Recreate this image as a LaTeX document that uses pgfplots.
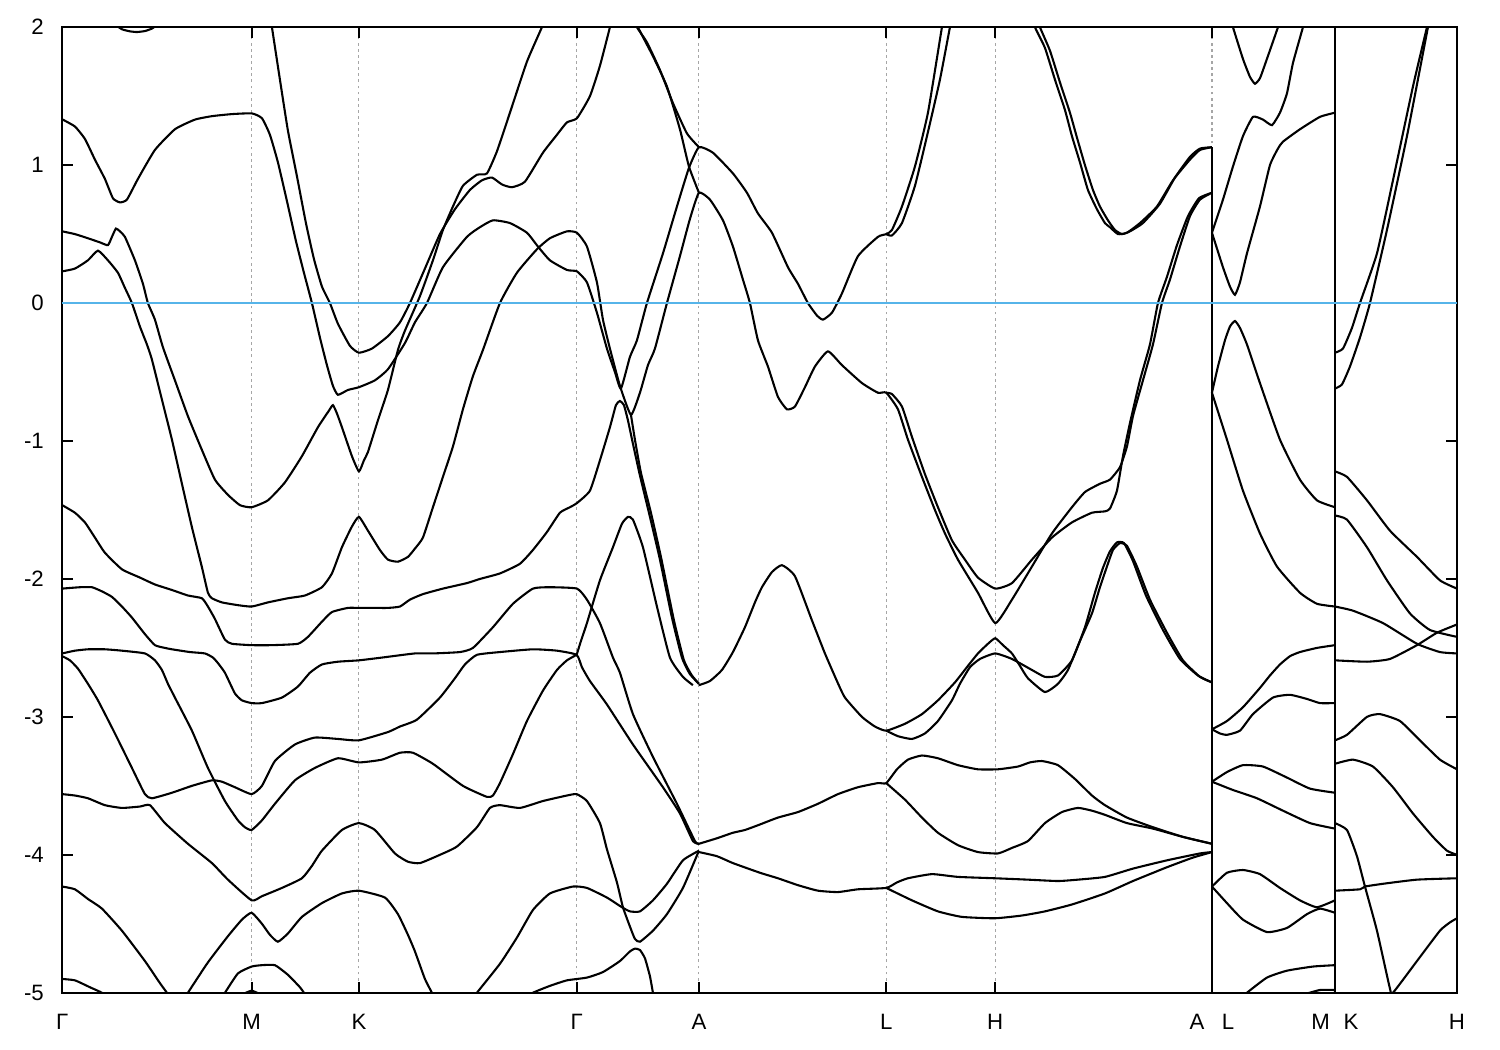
\documentclass[border=0pt]{standalone}
\usepackage{fontspec}
\setmainfont{Liberation Sans}
\usepackage{pgfplots}
\pgfplotsset{compat=1.18}
\definecolor{fermi}{RGB}{86,180,233}
\begin{document}
\begin{tikzpicture}
\begin{axis}[
  scale only axis, width=502.1pt, height=347.6pt,
  xmin=62.3, xmax=1457, ymin=-5, ymax=2,
  axis line style={line width=0.75pt},
  xtick={62.3,251.7,359,576.7,699,886.3,995.3,1212,1335,1457},
  xticklabels={Γ,M,K,Γ,A,L,H,{A\hspace{6.3pt}L},{M\hspace{4.9pt}K},H},
  ytick={-5,-4,-3,-2,-1,0,1,2},
  yticklabels={-5,-4,-3,-2,-1,0,1,2},
  major tick length=4pt,
  tick style={line width=0.75pt, black},
  xmajorgrids,
  grid style={gray!70, line width=0.4pt, dash pattern=on 1pt off 1.2pt},
  ticklabel style={font=\fontsize{8}{9.6}\selectfont},
  xticklabel style={yshift=-4.3pt},
  yticklabel style={xshift=-3.1pt},
  band/.style={black, line width=0.75pt, smooth, tension=0.3, mark=none},
  clip=true,
]
% ---------- Gamma - M - K - Gamma ----------
\addplot[band] coordinates {(62.3,1.332) (75,1.28) (85,1.19) (95,1.04) (105,0.90) (113,0.76) (120,0.73) (127,0.75) (138,0.90) (155,1.11) (175,1.26) (195,1.33) (212,1.355) (232,1.37) (252,1.375) (262,1.34) (270,1.22) (278,1.02) (287,0.74) (296,0.45) (304,0.22) (312,0.0) (320,-0.25) (327,-0.45) (333,-0.60) (338,-0.665) (348,-0.63) (359,-0.61) (375,-0.56) (388,-0.48) (405,-0.29) (415,-0.14) (427,0.0) (443,0.26) (467,0.48) (480,0.55) (493,0.60) (510,0.58) (527,0.51) (538,0.41) (550,0.31) (567,0.24) (577,0.23) (587,0.15) (597,-0.07) (607,-0.33) (615,-0.50) (621,-0.62) (630,-0.39) (637,-0.27) (647,0.0) (663,0.36) (677,0.70) (689,0.98) (699,1.13) (713,1.09) (733,0.94) (747,0.80) (758,0.65) (772,0.51) (788,0.26) (798,0.14) (808,0.0) (817,-0.09) (823,-0.12) (832,-0.07) (842,0.07) (858,0.34) (878,0.48) (886.3,0.50) (892,0.53) (902,0.70) (915,0.99) (928,1.38) (942,2.0) (944,2.06)};
\addplot[band] coordinates {(115,2.02) (122,1.985) (130,1.97) (137,1.965) (145,1.972) (152,1.99) (158,2.02)};
\addplot[band] coordinates {(62.3,0.52) (75,0.50) (88,0.47) (100,0.44) (108,0.42) (112,0.48) (116,0.54) (120,0.52) (125,0.48) (135,0.31) (143,0.14) (148,0.0) (155,-0.12) (163,-0.32) (175,-0.56) (188,-0.82) (202,-1.065) (215,-1.28) (228,-1.39) (240,-1.465) (251.7,-1.48) (268,-1.43) (285,-1.30) (302,-1.11) (318,-0.90) (329,-0.78) (333,-0.74) (337,-0.80) (342,-0.90) (352,-1.11) (359,-1.22) (364,-1.14) (368,-1.08) (378,-0.85) (388,-0.63) (398,-0.34) (405,-0.20) (420,0.05) (433,0.31) (443,0.53) (453,0.70) (463,0.85) (477,0.93) (487,0.94) (497,1.10) (510,1.38) (527,1.75) (542,2.0) (544,2.05)};
\addplot[band] coordinates {(62.3,0.23) (75,0.25) (88,0.31) (98,0.38) (108,0.31) (118,0.22) (125,0.11) (132,0.0) (140,-0.17) (147,-0.30) (152,-0.41) (162,-0.70) (172,-0.99) (182,-1.31) (192,-1.625) (202,-1.915) (208,-2.10) (212,-2.14) (222,-2.17) (238,-2.19) (251.7,-2.20) (268,-2.17) (288,-2.14) (305,-2.12) (322,-2.06) (332,-1.96) (342,-1.77) (352,-1.62) (359,-1.55) (368,-1.65) (380,-1.79) (388,-1.86) (398,-1.875) (408,-1.84) (415,-1.78) (423,-1.70) (433,-1.48) (443,-1.26) (453,-1.04) (463,-0.77) (473,-0.53) (483,-0.34) (500,0.0) (517,0.22) (537,0.39) (550,0.47) (567,0.52) (577,0.51) (587,0.41) (597,0.15) (603,-0.12) (610,-0.33) (620,-0.60) (631,-0.81) (640,-0.65) (648,-0.45) (655,-0.33) (667,0.0) (680,0.34) (690,0.61) (699,0.80) (710,0.75) (723,0.60) (733,0.41) (743,0.17) (750,0.0) (758,-0.27) (768,-0.46) (778,-0.68) (787,-0.77) (795,-0.75) (805,-0.61) (815,-0.46) (828,-0.35) (842,-0.45) (862,-0.58) (878,-0.65) (886.3,-0.65) (898,-0.77) (908,-0.99) (922,-1.26) (935,-1.50) (945,-1.67) (958,-1.86) (978,-2.10) (995.3,-2.32) (1012,-2.15) (1032,-1.91) (1052,-1.67) (1072,-1.48) (1085,-1.37) (1100,-1.31) (1110,-1.28) (1120,-1.19) (1127,-1.04) (1133,-0.82) (1143,-0.56) (1153,-0.30) (1162,0.0) (1170,0.17) (1180,0.41) (1190,0.63) (1200,0.75) (1212,0.80)};
\addplot[band] coordinates {(271,2.05) (272,2.0) (280,1.62) (288,1.25) (297,0.92) (306,0.58) (314,0.32) (322,0.12) (330,0.0) (338,-0.15) (350,-0.31) (359,-0.36) (372,-0.33) (388,-0.24) (400,-0.14) (410,0.0) (425,0.25) (440,0.50) (455,0.68) (470,0.82) (482,0.89) (492,0.91) (502,0.86) (512,0.84) (525,0.88) (543,1.09) (557,1.22) (567,1.31) (577,1.34) (590,1.50) (600,1.72) (610,2.0) (612,2.06)};
\addplot[band] coordinates {(62.3,-1.465) (75,-1.52) (85,-1.59) (95,-1.70) (105,-1.81) (122,-1.93) (140,-1.99) (155,-2.04) (172,-2.08) (188,-2.12) (202,-2.14) (208,-2.20) (215,-2.29) (225,-2.44) (232,-2.47) (251.7,-2.48) (272,-2.48) (298,-2.47) (308,-2.42) (322,-2.31) (332,-2.24) (348,-2.21) (359,-2.21) (375,-2.21) (388,-2.21) (400,-2.2) (410,-2.15) (423,-2.11) (443,-2.07) (467,-2.03) (480,-2.0) (500,-1.96) (520,-1.89) (533,-1.79) (547,-1.66) (560,-1.52) (570,-1.48) (577,-1.45) (590,-1.36) (600,-1.14) (610,-0.90) (616,-0.74) (620,-0.71) (624,-0.74) (628,-0.85) (633,-1.02) (640,-1.25) (650,-1.55) (660,-1.86) (672,-2.28) (682,-2.57) (690,-2.69) (699,-2.76)};
\addplot[band] coordinates {(62.3,-2.07) (80,-2.06) (92,-2.06) (102,-2.09) (112,-2.13) (122,-2.20) (132,-2.28) (145,-2.40) (155,-2.48) (165,-2.50) (172,-2.51) (190,-2.53) (205,-2.54) (213,-2.57) (218,-2.61) (225,-2.68) (235,-2.83) (242,-2.88) (251.7,-2.90) (262,-2.90) (282,-2.86) (298,-2.78) (310,-2.68) (322,-2.62) (338,-2.60) (359,-2.59) (382,-2.57) (415,-2.54) (433,-2.54) (460,-2.53) (473,-2.50) (493,-2.35) (513,-2.18) (533,-2.07) (550,-2.06) (577,-2.07) (587,-2.15) (600,-2.32) (613,-2.57) (620,-2.68) (633,-2.98) (653,-3.29) (677,-3.63) (695,-3.90) (699,-3.92)};
\addplot[band] coordinates {(62.3,-2.54) (75,-2.52) (88,-2.51) (105,-2.51) (122,-2.52) (145,-2.54) (155,-2.59) (162,-2.66) (168,-2.76) (175,-2.86) (192,-3.10) (208,-3.37) (225,-3.61) (238,-3.75) (245,-3.80) (251.7,-3.82) (262,-3.75) (275,-3.63) (295,-3.46) (315,-3.37) (338,-3.30) (359,-3.33) (382,-3.31) (400,-3.26) (413,-3.26) (433,-3.34) (463,-3.50) (487,-3.58) (493,-3.57) (500,-3.48) (513,-3.27) (527,-3.03) (543,-2.81) (557,-2.66) (567,-2.59) (576.7,-2.55)};
\addplot[band] coordinates {(62.3,-2.56) (70,-2.59) (78,-2.65) (88,-2.76) (98,-2.88) (115,-3.12) (132,-3.37) (145,-3.56) (152,-3.59) (172,-3.55) (192,-3.50) (212,-3.46) (222,-3.47) (235,-3.51) (251.7,-3.56) (262,-3.50) (275,-3.32) (295,-3.20) (315,-3.15) (338,-3.16) (359,-3.17) (388,-3.11) (400,-3.07) (417,-3.02) (440,-2.86) (455,-2.72) (465,-2.62) (477,-2.55) (500,-2.53) (533,-2.51) (557,-2.52) (576.7,-2.55) (582,-2.64) (590,-2.74) (607,-2.91) (633,-3.20) (663,-3.51) (680,-3.70) (693,-3.90) (699,-3.92)};
\addplot[band] coordinates {(62.3,-3.56) (75,-3.57) (88,-3.59) (105,-3.64) (122,-3.66) (140,-3.65) (150,-3.64) (165,-3.77) (188,-3.92) (212,-4.06) (228,-4.18) (251.7,-4.33) (262,-4.30) (282,-4.24) (302,-4.17) (312,-4.08) (322,-3.97) (342,-3.82) (359,-3.77) (375,-3.82) (395,-3.99) (408,-4.05) (420,-4.06) (440,-4.0) (457,-3.94) (477,-3.80) (490,-3.66) (500,-3.64) (520,-3.66) (543,-3.61) (567,-3.57) (576.7,-3.56) (587,-3.61) (600,-3.77) (607,-3.96) (617,-4.20) (623,-4.38) (630,-4.52) (635,-4.61) (640,-4.63) (653,-4.55) (667,-4.43) (683,-4.24) (699,-3.97)};
\addplot[band] coordinates {(62.3,-4.23) (75,-4.25) (88,-4.32) (102,-4.39) (122,-4.55) (145,-4.77) (160,-4.93) (167,-5.0) (170,-5.04)};
\addplot[band] coordinates {(62.3,-4.90) (75,-4.91) (90,-4.96) (102,-5.0) (105,-5.03)};
\addplot[band] coordinates {(185,-5.04) (188,-5.0) (208,-4.78) (228,-4.59) (242,-4.47) (251.7,-4.42) (262,-4.50) (270,-4.58) (278,-4.63) (288,-4.57) (302,-4.45) (322,-4.35) (342,-4.28) (359,-4.26) (385,-4.31) (398,-4.43) (408,-4.58) (415,-4.70) (425,-4.90) (432,-5.0) (434,-5.04)};
\addplot[band] coordinates {(222,-5.03) (225,-5.0) (238,-4.86) (251.7,-4.81) (262,-4.80) (275,-4.80) (288,-4.87) (300,-4.96) (306,-5.02)};
\addplot[band] coordinates {(243,-5.01) (251.7,-4.985) (260,-5.01)};
\addplot[band] coordinates {(474,-5.04) (477,-5.0) (500,-4.79) (517,-4.60) (533,-4.40) (550,-4.28) (573,-4.23) (587,-4.24) (607,-4.31) (622,-4.38) (630,-4.41) (640,-4.41) (653,-4.33) (667,-4.21) (683,-4.04) (699,-3.97)};
\addplot[band] coordinates {(530,-5.03) (533,-5.0) (550,-4.95) (567,-4.91) (587,-4.89) (603,-4.85) (620,-4.77) (630,-4.70) (635,-4.68) (640,-4.69) (645,-4.75) (650,-4.88) (653,-5.0) (654,-5.03)};
% ---------- Gamma - A ----------
\addplot[band] coordinates {(631,-0.81) (635,-0.99) (641,-1.23) (651,-1.52) (661,-1.84) (674,-2.30) (684,-2.59) (692,-2.70) (699,-2.76)};
\addplot[band] coordinates {(576.7,-2.55) (581,-2.45) (587,-2.32) (600,-2.01) (613,-1.77) (622,-1.60) (628,-1.55) (633,-1.57) (643,-1.77) (657,-2.2) (670,-2.57) (683,-2.71) (693,-2.77)};
\addplot[band] coordinates {(636,2.05) (637,2.0) (647,1.89) (660,1.69) (673,1.45) (687,1.23) (699,1.13)};
\addplot[band] coordinates {(637,2.05) (638,2.0) (653,1.79) (667,1.57) (680,1.26) (689,0.99) (699,0.80)};
% ---------- A - L - H - A ----------
\addplot[band] coordinates {(699,-2.77) (710,-2.74) (722,-2.66) (733,-2.53) (745,-2.35) (755,-2.17) (762,-2.06) (772,-1.95) (782,-1.90) (795,-1.98) (812,-2.30) (825,-2.54) (837,-2.74) (845,-2.86) (862,-3.0) (875,-3.07) (886.3,-3.10) (905,-3.05) (922,-2.98) (938,-2.88) (955,-2.75) (968,-2.63) (978,-2.54) (988,-2.47) (995.3,-2.43) (1003,-2.48) (1012,-2.54) (1020,-2.63) (1028,-2.72) (1045,-2.82) (1058,-2.76) (1068,-2.66) (1080,-2.45) (1092,-2.25) (1100,-2.06) (1107,-1.91) (1113,-1.79) (1120,-1.74) (1127,-1.76) (1137,-1.91) (1150,-2.15) (1167,-2.39) (1183,-2.59) (1200,-2.71) (1212,-2.75)};
\addplot[band] coordinates {(886.3,-3.10) (898,-3.14) (912,-3.16) (925,-3.12) (938,-3.03) (952,-2.88) (960,-2.76) (970,-2.64) (980,-2.58) (995.3,-2.54) (1012,-2.58) (1032,-2.66) (1045,-2.71) (1058,-2.70) (1072,-2.59) (1085,-2.35) (1095,-2.10) (1103,-1.92) (1110,-1.80) (1117,-1.735) (1124,-1.74) (1133,-1.87) (1146,-2.12) (1163,-2.37) (1180,-2.58) (1198,-2.70) (1212,-2.75)};
\addplot[band] coordinates {(886.3,-0.65) (892,-0.66) (902,-0.75) (912,-0.97) (925,-1.24) (938,-1.48) (952,-1.72) (965,-1.86) (978,-1.99) (995.3,-2.07) (1012,-2.03) (1032,-1.86) (1052,-1.70) (1072,-1.59) (1092,-1.52) (1105,-1.51) (1110,-1.49) (1117,-1.36) (1123,-1.11) (1130,-0.87) (1140,-0.56) (1150,-0.30) (1158,0.0) (1167,0.19) (1177,0.42) (1188,0.63) (1199,0.76) (1212,0.80)};
\addplot[band] coordinates {(886.3,0.50) (892,0.49) (902,0.58) (915,0.85) (928,1.24) (940,1.62) (950,2.0) (952,2.06)};
\addplot[band] coordinates {(1034,2.05) (1035,2.0) (1045,1.85) (1055,1.62) (1065,1.40) (1072,1.21) (1080,1.02) (1088,0.82) (1097,0.68) (1105,0.58) (1110,0.55) (1118,0.50) (1127,0.51) (1140,0.58) (1157,0.70) (1173,0.89) (1190,1.04) (1200,1.11) (1212,1.13)};
\addplot[band] coordinates {(1039,2.05) (1040,2.0) (1050,1.83) (1060,1.60) (1070,1.38) (1077,1.20) (1085,1.00) (1093,0.82) (1100,0.70) (1108,0.60) (1115,0.53) (1122,0.50) (1130,0.52) (1143,0.58) (1160,0.72) (1175,0.91) (1190,1.06) (1200,1.12) (1212,1.13)};
\addplot[band] coordinates {(699,-3.92) (717,-3.88) (733,-3.84) (745,-3.82) (760,-3.78) (778,-3.73) (798,-3.69) (818,-3.63) (838,-3.56) (858,-3.51) (878,-3.48) (886.3,-3.48) (897,-3.38) (908,-3.31) (922,-3.28) (938,-3.30) (958,-3.35) (978,-3.38) (998,-3.38) (1018,-3.36) (1030,-3.33) (1042,-3.32) (1058,-3.35) (1075,-3.45) (1092,-3.57) (1105,-3.64) (1127,-3.73) (1153,-3.80) (1183,-3.87) (1212,-3.92)};
\addplot[band] coordinates {(886.3,-3.48) (905,-3.60) (922,-3.73) (938,-3.84) (958,-3.93) (978,-3.98) (998,-3.99) (1012,-3.95) (1028,-3.90) (1045,-3.77) (1062,-3.69) (1078,-3.66) (1092,-3.68) (1105,-3.71) (1127,-3.77) (1153,-3.81) (1183,-3.87) (1212,-3.92)};
\addplot[band] coordinates {(699,-3.98) (717,-4.01) (733,-4.06) (760,-4.13) (778,-4.17) (798,-4.22) (818,-4.26) (838,-4.27) (858,-4.25) (886.3,-4.24) (897,-4.20) (908,-4.17) (932,-4.14) (958,-4.16) (995,-4.17) (1028,-4.18) (1058,-4.19) (1078,-4.18) (1105,-4.16) (1133,-4.10) (1167,-4.04) (1200,-3.99) (1212,-3.98)};
\addplot[band] coordinates {(886.3,-4.24) (912,-4.33) (938,-4.41) (962,-4.45) (995,-4.46) (1022,-4.44) (1045,-4.41) (1072,-4.36) (1105,-4.28) (1133,-4.19) (1167,-4.09) (1193,-4.02) (1212,-3.98)};
% ---------- L - M ----------
\addplot[band] coordinates {(1212,0.51) (1223,0.26) (1230,0.12) (1235,0.06) (1240,0.15) (1247,0.36) (1260,0.70) (1270,1.0) (1278,1.12) (1283,1.17) (1300,1.26) (1320,1.35) (1335,1.38)};
\addplot[band] coordinates {(1212,0.51) (1223,0.75) (1233,0.99) (1243,1.21) (1253,1.35) (1263,1.33) (1272,1.29) (1280,1.38) (1287,1.52) (1293,1.74) (1303,2.0) (1305,2.06)};
\addplot[band] coordinates {(1231,2.06) (1233,2.0) (1243,1.77) (1250,1.64) (1255,1.59) (1260,1.63) (1266,1.75) (1278,2.0) (1280,2.06)};
\addplot[band] coordinates {(1212,-0.65) (1218,-0.46) (1225,-0.27) (1230,-0.17) (1235,-0.13) (1240,-0.18) (1247,-0.30) (1260,-0.58) (1280,-0.99) (1300,-1.28) (1317,-1.43) (1335,-1.48)};
\addplot[band] coordinates {(1212,-0.65) (1227,-0.99) (1243,-1.36) (1260,-1.67) (1277,-1.91) (1300,-2.10) (1317,-2.18) (1335,-2.20)};
\addplot[band] coordinates {(1212,-3.09) (1227,-3.03) (1243,-2.93) (1260,-2.79) (1270,-2.70) (1280,-2.62) (1290,-2.56) (1300,-2.53) (1317,-2.50) (1335,-2.48)};
\addplot[band] coordinates {(1212,-3.09) (1220,-3.12) (1227,-3.13) (1240,-3.10) (1253,-2.98) (1273,-2.86) (1290,-2.84) (1307,-2.87) (1320,-2.90) (1335,-2.90)};
\addplot[band] coordinates {(1212,-3.47) (1227,-3.40) (1243,-3.35) (1263,-3.36) (1287,-3.44) (1310,-3.52) (1335,-3.55)};
\addplot[band] coordinates {(1212,-3.47) (1233,-3.53) (1257,-3.59) (1283,-3.68) (1310,-3.77) (1335,-3.81)};
\addplot[band] coordinates {(1212,-4.23) (1227,-4.13) (1243,-4.11) (1260,-4.14) (1280,-4.24) (1300,-4.33) (1317,-4.38) (1335,-4.33)};
\addplot[band] coordinates {(1212,-4.23) (1227,-4.35) (1243,-4.47) (1267,-4.56) (1287,-4.53) (1307,-4.43) (1320,-4.39) (1335,-4.42)};
\addplot[band] coordinates {(1244,-5.03) (1247,-5.0) (1267,-4.89) (1287,-4.84) (1313,-4.81) (1335,-4.80)};
\addplot[band] coordinates {(1305,-5.01) (1320,-4.98) (1335,-4.98)};
% ---------- K - H ----------
\addplot[band] coordinates {(1335,-0.36) (1343,-0.33) (1352,-0.18) (1360,0.0) (1377,0.36) (1393,0.89) (1413,1.57) (1427,2.0) (1429,2.06)};
\addplot[band] coordinates {(1335,-0.62) (1342,-0.59) (1350,-0.46) (1360,-0.25) (1370,0.0) (1387,0.53) (1407,1.21) (1428,2.0) (1430,2.06)};
\addplot[band] coordinates {(1335,-1.22) (1347,-1.26) (1367,-1.43) (1390,-1.65) (1417,-1.84) (1440,-2.01) (1457,-2.07)};
\addplot[band] coordinates {(1335,-1.54) (1347,-1.57) (1367,-1.77) (1387,-2.01) (1410,-2.25) (1430,-2.37) (1457,-2.42)};
\addplot[band] coordinates {(1335,-2.20) (1353,-2.23) (1383,-2.32) (1417,-2.47) (1440,-2.53) (1457,-2.54)};
\addplot[band] coordinates {(1335,-2.59) (1367,-2.60) (1390,-2.58) (1417,-2.48) (1437,-2.39) (1457,-2.33)};
\addplot[band] coordinates {(1335,-3.17) (1347,-3.13) (1367,-3.0) (1380,-2.98) (1400,-3.03) (1420,-3.17) (1440,-3.31) (1457,-3.38)};
\addplot[band] coordinates {(1335,-3.34) (1353,-3.31) (1373,-3.36) (1393,-3.51) (1413,-3.70) (1433,-3.87) (1447,-3.97) (1457,-4.0)};
\addplot[band] coordinates {(1335,-3.77) (1347,-3.82) (1357,-4.01) (1365,-4.23) (1377,-4.55) (1390,-4.97) (1393,-5.0) (1417,-4.77) (1440,-4.55) (1450,-4.49) (1457,-4.46)};
\addplot[band] coordinates {(1335,-4.26) (1360,-4.25) (1365,-4.23) (1383,-4.21) (1417,-4.18) (1457,-4.17)};
% ---------- jumps at path breaks ----------
\addplot[black, line width=0.75pt] coordinates {(1212,1.13) (1212,-5.1)};
\addplot[black, line width=0.75pt] coordinates {(1335,2.1) (1335,-5.1)};
% ---------- Fermi level ----------
\addplot[fermi, line width=0.75pt] coordinates {(62.3,0) (1457,0)};
\end{axis}
\pgfresetboundingbox
\path[use as bounding box] ([shift={(-22.4pt,-20.6pt)}]current axis.south west) rectangle ([shift={(15.5pt,9.8pt)}]current axis.north east);
\end{tikzpicture}
\end{document}
